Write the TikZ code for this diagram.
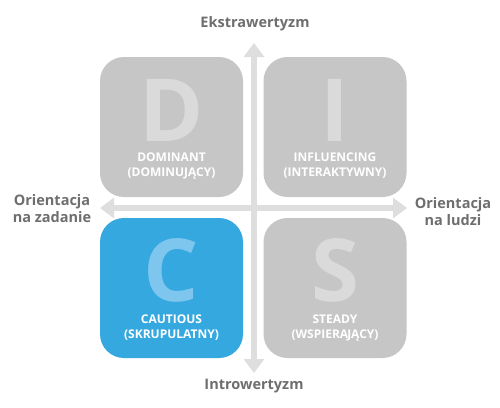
\documentclass[tikz,border=0pt]{standalone}
\usepackage{fontspec}
\setmainfont{Open Sans}
\usepackage{tikz}
\usepackage{xcolor}
\usetikzlibrary{arrows.meta,positioning}
\definecolor{boxgray}{HTML}{C6C6C6}
\definecolor{lettergray}{HTML}{DADADA}
\definecolor{boxblue}{HTML}{35A8E0}
\definecolor{letterblue}{HTML}{7EC6EE}
\definecolor{axisgray}{HTML}{DEDEDE}
\definecolor{labelgray}{HTML}{6E6E6E}
\tikzset{
  quad/.style={fill=boxgray,rounded corners=24pt,minimum width=143pt,
               minimum height=140pt,inner sep=0pt},
  bluequad/.style={quad,fill=boxblue},
  bigletter/.style={anchor=base,inner sep=0pt,text=lettergray,
                    text height=62pt,text depth=0pt,
                    font=\fontsize{87}{87}\selectfont\bfseries},
  blueletter/.style={bigletter,text=letterblue},
  quadtext/.style={align=center,text=white,inner sep=0pt,
                   font=\fontsize{12}{15}\selectfont\bfseries},
  axislabel/.style={align=center,text=labelgray,inner sep=0pt,
                    font=\fontsize{14.5}{17}\selectfont\bfseries},
  axisarr/.style={{Triangle[length=14pt,width=20pt]}-{Triangle[length=14pt,width=20pt]},
                  line width=6pt,draw=axisgray}
}
\begin{document}
\begin{tikzpicture}[x=1pt,y=-1pt]
    \path[use as bounding box,fill=white] (0,0) rectangle (500,407);
    % axes
    \coordinate (axtop) at (254,43);
    \coordinate (axbottom) at (254,373);
    \coordinate (axleft) at (100,208);
    \coordinate (axright) at (407,208);
    \draw[axisarr] (axbottom) -- (axtop);
    \draw[axisarr] (axleft) -- (axright);
    % quadrants
    \node[quad] (dbox) at (171.5,127) {};
    \node[quad] (ibox) at (335,127) {};
    \node[bluequad] (cbox) at (171.5,288) {};
    \node[quad] (sbox) at (335,288) {};
    \node[bigletter] (dletter) at (171.5,141) {D};
    \node[bigletter] (iletter) at (335,141) {I};
    \node[blueletter] (cletter) at (171.5,301) {C};
    \node[bigletter] (sletter) at (335,301) {S};
    \node[quadtext] (dtext) at (171.5,166) {DOMINANT\\(DOMINUJĄCY)};
    \node[quadtext] (itext) at (335,166) {INFLUENCING\\(INTERAKTYWNY)};
    \node[quadtext] (ctext) at (171.5,328) {CAUTIOUS\\(SKRUPULATNY)};
    \node[quadtext] (stext) at (335,328) {STEADY\\(WSPIERA\kern-1ptJĄCY)};
    % axis labels
    \node[axislabel] (extro) at (255,24) {Ekstrawertyzm};
    \node[axislabel] (intro) at (254,386) {Introwertyzm};
    \node[axislabel] (task) at (52,209) {Orientacja\\na zadanie};
    \node[axislabel] (people) at (453,212) {Orientacja\\na ludzi};
\end{tikzpicture}
\end{document}
